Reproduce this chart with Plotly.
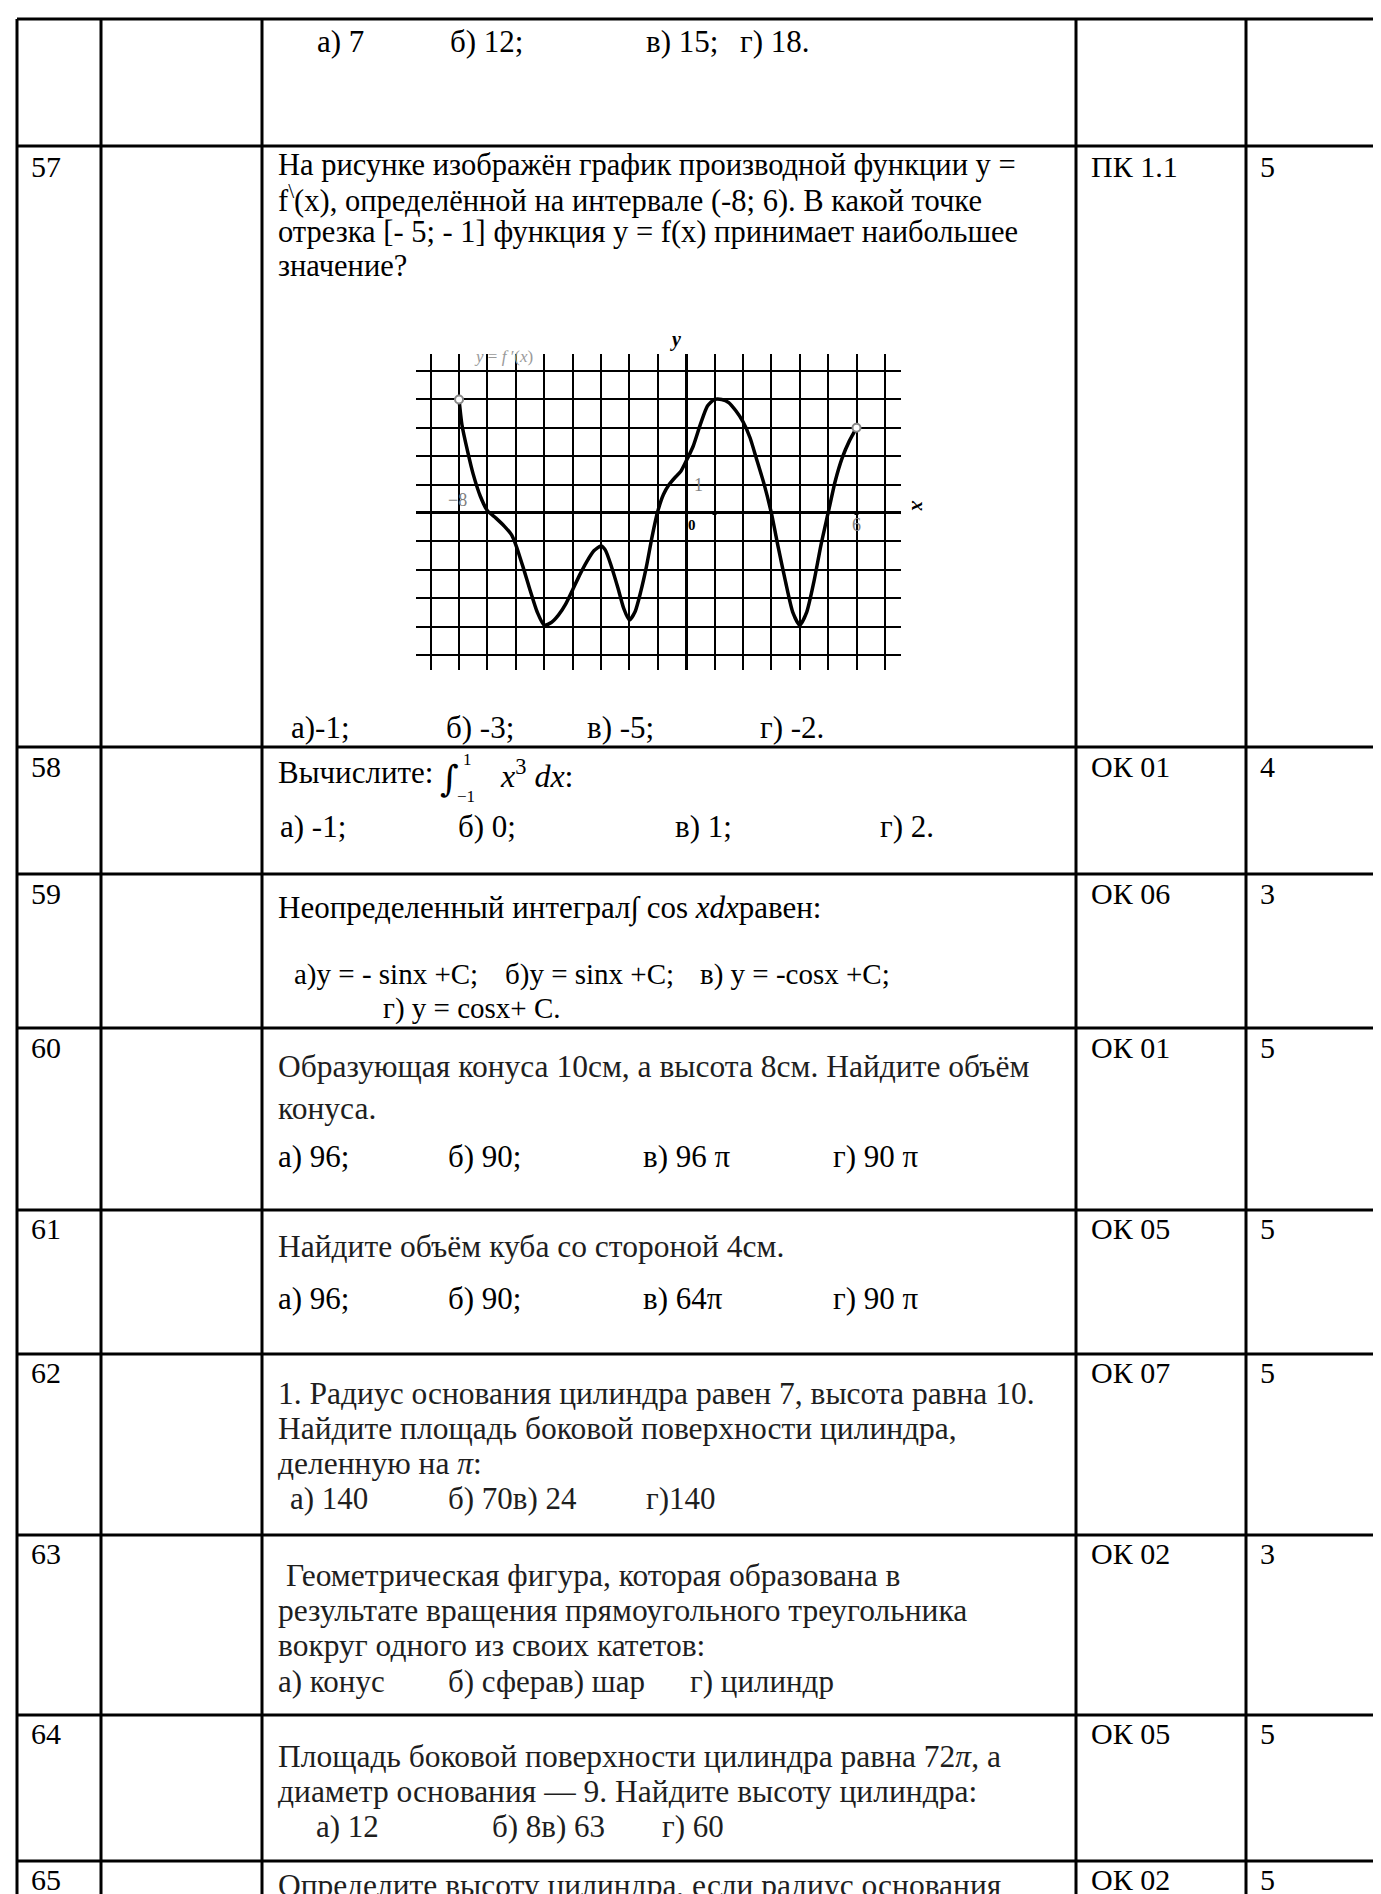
import plotly.graph_objects as go

W, H = 1381, 1894
FONT = "Liberation Serif"

# ---------------- table data ----------------
row_numbers = ["57", "58", "59", "60", "61", "62", "63", "64", "65"]
codes = ["ПК 1.1", "ОК 01", "ОК 06", "ОК 01", "ОК 05", "ОК 07", "ОК 02", "ОК 05", "ОК 02"]
points = ["5", "4", "3", "5", "5", "5", "3", "5", "5"]

prev_answers = ["а) 7", "б) 12;", "в) 15;", "г) 18."]
q57_lines = [
    "На рисунке изображён график производной функции у =",
    "f<sup>\\</sup>(x), определённой на интервале (-8; 6). В какой точке",
    "отрезка [- 5; - 1] функция у = f(x) принимает наибольшее",
    "значение?",
]
q57_answers = ["а)-1;", "б) -3;", "в) -5;", "г) -2."]
q58_answers = ["а) -1;", "б) 0;", "в) 1;", "г) 2."]
q59_line = "Неопределенный интеграл∫ cos <i>xdx</i>равен:"
q59_answers = ["а)y = - sinx +C;", "б)y = sinx +C;", "в) y = -cosx +C;", "г) y = cosx+ C."]
q60_lines = ["Образующая конуса 10см, а высота 8см. Найдите объём", "конуса."]
q60_answers = ["а) 96;", "б) 90;", "в) 96 π", "г) 90 π"]
q61_lines = ["Найдите объём куба со стороной 4см."]
q61_answers = ["а) 96;", "б) 90;", "в) 64π", "г) 90 π"]
q62_lines = [
    "1. Радиус основания цилиндра равен 7, высота равна 10.",
    "Найдите площадь боковой поверхности цилиндра,",
    "деленную на <i>π</i>:",
]
q62_answers = ["а) 140", "б) 70в) 24", "г)140"]
q63_lines = [
    " Геометрическая фигура, которая образована в",
    "результате вращения прямоугольного треугольника",
    "вокруг одного из своих катетов:",
]
q63_answers = ["а) конус", "б) сферав) шар", "г) цилиндр"]
q64_lines = [
    "Площадь боковой поверхности цилиндра равна 72<i>π</i>, а",
    "диаметр основания — 9. Найдите высоту цилиндра:",
]
q64_answers = ["а) 12", "б) 8в) 63", "г) 60"]
q65_lines = ["Определите высоту цилиндра, если радиус основания"]

# ---------------- chart data: y = f'(x) ----------------
fx = [-8, -7.9, -7.7, -7.5, -7.25, -7, -6.7, -6.4, -6.15, -6, -5.75, -5.5, -5.25, -5,
      -4.75, -4.5, -4.25, -4, -3.75, -3.5, -3.25, -3, -2.85, -2.65, -2.4, -2.2, -2,
      -1.8, -1.6, -1.4, -1.2, -1, -0.8, -0.6, -0.4, -0.2, 0, 0.25, 0.5, 0.75, 1,
      1.25, 1.5, 1.75, 2, 2.25, 2.5, 2.75, 3, 3.25, 3.5, 3.75, 4, 4.25, 4.5, 4.75,
      5, 5.25, 5.5, 5.75, 6]
fy = [4, 3.12, 2.18, 1.36, 0.59, 0.08, -0.18, -0.47, -0.77, -1.12, -1.89, -2.71, -3.48, -3.95,
      -3.86, -3.6, -3.22, -2.71, -2.18, -1.71, -1.33, -1.16, -1.3, -1.83, -2.65, -3.36, -3.77,
      -3.48, -2.77, -1.89, -0.83, 0.06, 0.65, 1.0, 1.24, 1.45, 1.83, 2.36, 3.12, 3.77, 4.0,
      4.0, 3.89, 3.6, 3.22, 2.65, 1.83, 1.0, 0.0, -1.24, -2.42, -3.48, -3.95, -3.48, -2.42, -1.12,
      0.0, 1.12, 1.95, 2.54, 3.0]
end_x = [fx[0], fx[-1]]
end_y = [fy[0], fy[-1]]
x_range = [-9.52, 7.55]
y_range = [-5.52, 5.6]
tick_marks_x = [1, 6]

# ---------------- layout geometry ----------------
col_edges = [9, 93, 254, 1068, 1238, 1379]
row_lines = [11, 138, 739, 866, 1020, 1202, 1346, 1527, 1707, 1853]
num_y = [158, 758, 885, 1039, 1220, 1364, 1545, 1725, 1871]

# chart placement on the page (pixels)
x_left, x_right = 407.9, 892.5
y_top, y_bot = 346.0, 661.7


def to_page(xv, yv):
    px = x_left + (xv - x_range[0]) / (x_range[1] - x_range[0]) * (x_right - x_left)
    py = y_bot - (yv - y_range[0]) / (y_range[1] - y_range[0]) * (y_bot - y_top)
    return px, py


fig = go.Figure()
fig.add_trace(go.Scatter(x=[0, W], y=[0, H], mode="markers", marker=dict(opacity=0),
                         hoverinfo="skip", showlegend=False, xaxis="x", yaxis="y"))

shapes = []
for xe in col_edges:
    shapes.append(dict(type="line", xref="x", yref="y", x0=xe, x1=xe, y0=row_lines[0], y1=H,
                       line=dict(color="black", width=3)))
for ye in row_lines:
    shapes.append(dict(type="line", xref="x", yref="y", x0=col_edges[0], x1=col_edges[-1],
                       y0=ye, y1=ye, line=dict(color="black", width=3)))

ann = []
FS = 31


def txt(s, x, y, size=FS, color="black", family=FONT, anchor="left", **kw):
    d = dict(text=s, x=x, y=y, xref="x", yref="y", xanchor=anchor, yanchor="middle",
             showarrow=False, font=dict(family=family, size=size, color=color))
    d.update(kw)
    ann.append(d)


for i, n in enumerate(row_numbers):
    txt(n, 21, num_y[i], size=30)
    txt(codes[i], 1081, num_y[i], size=30)
    txt(points[i], 1250, num_y[i], size=30)

# previous question answers (top row)
for s, x in zip(prev_answers, [307, 440, 636, 730]):
    txt(s, x, 33)

# 57
for s, y in zip(q57_lines, [157, 190.5, 224, 257.5]):
    txt(s, 268, y, size=30.5)
for s, x in zip(q57_answers, [281, 436, 577, 750]):
    txt(s, x, 719)

# 58
txt("Вычислите:", 268, 764)
txt("∫", 430, 770, size=36, family="DejaVu Serif")
txt("1", 453, 751, size=17)
txt("−1", 447, 788, size=17)
txt("<i>x</i><sup>3</sup> <i>dx</i>:", 490, 766, size=32)
for s, x in zip(q58_answers, [270, 448, 665, 870]):
    txt(s, x, 818)

# 59
txt(q59_line, 268, 900)
for s, x in zip(q59_answers[:3], [284, 495, 690]):
    txt(s, x, 966, size=29)
txt(q59_answers[3], 373, 1000, size=29)

GREY = "#1e1e1e"
ans_x4 = [268, 438, 633, 823]
# 60
for s, y in zip(q60_lines, [1058, 1100]):
    txt(s, 268, y, color=GREY, size=31.5)
for s, x in zip(q60_answers, ans_x4):
    txt(s, x, 1148)
# 61
txt(q61_lines[0], 268, 1238, color=GREY, size=31.5)
for s, x in zip(q61_answers, ans_x4):
    txt(s, x, 1290)
# 62
for s, y in zip(q62_lines, [1385, 1420, 1455]):
    txt(s, 268, y, color=GREY, size=31.5)
for s, x in zip(q62_answers, [280, 438, 636]):
    txt(s, x, 1490, color=GREY)
# 63
for s, y in zip(q63_lines, [1567, 1602, 1637]):
    txt(s, 268, y, color=GREY, size=31.5)
for s, x in zip(q63_answers, [268, 438, 680]):
    txt(s, x, 1673, color=GREY)
# 64
for s, y in zip(q64_lines, [1748, 1783]):
    txt(s, 268, y, color=GREY, size=31.5)
for s, x in zip(q64_answers, [306, 482, 652]):
    txt(s, x, 1818, color=GREY)
# 65
txt(q65_lines[0], 268, 1877, color=GREY, size=31.5)

# ---------------- chart ----------------
fig.add_trace(go.Scatter(x=fx, y=fy, mode="lines",
                         line=dict(color="black", width=3.5, shape="spline", smoothing=0.6),
                         xaxis="x2", yaxis="y2", showlegend=False, hoverinfo="skip"))
fig.add_trace(go.Scatter(x=end_x, y=end_y, mode="markers", cliponaxis=False,
                         marker=dict(symbol="circle", size=8, color="white", line=dict(color="#888", width=2)),
                         xaxis="x2", yaxis="y2", showlegend=False, hoverinfo="skip"))
fig.add_trace(go.Scatter(x=tick_marks_x, y=[0, 0], mode="markers",
                         marker=dict(symbol="square", size=4, color="black"),
                         xaxis="x2", yaxis="y2", showlegend=False, hoverinfo="skip"))
# axis extensions with arrowheads
shapes.append(dict(type="line", xref="x2", yref="y2", x0=0, x1=0, y0=y_range[1], y1=5.95,
                   line=dict(color="black", width=2.5)))
shapes.append(dict(type="line", xref="x2", yref="y2", x0=x_range[1], x1=7.9, y0=0, y1=0,
                   line=dict(color="black", width=2.5)))
fig.add_trace(go.Scatter(x=[0, 7.92], y=[5.97, 0], mode="markers", cliponaxis=False,
                         marker=dict(symbol=["triangle-up", "triangle-right"], size=9, color="black"),
                         xaxis="x2", yaxis="y2", showlegend=False, hoverinfo="skip"))


def cann(s, xv, yv, size=16, color="#808080", anchor="center", **kw):
    px, py = to_page(xv, yv)
    d = dict(text=s, x=px, y=py, xref="x", yref="y", showarrow=False, xanchor=anchor, yanchor="middle",
             font=dict(family=FONT, size=size, color=color))
    d.update(kw)
    ann.append(d)


cann("<i>y</i> = <i>f</i> ′(<i>x</i>)", -6.45, 5.5, size=17, color="#9a9a9a")
cann("−8", -8.05, 0.45, size=18)
cann("6", 6.0, -0.42, size=18)
cann("1", 0.42, 1.0, size=18)
cann("<b>0</b>", 0.22, -0.42, size=15, color="black")
cann("<b><i>y</i></b>", -0.38, 6.1, size=20, color="black")
cann("<b><i>x</i></b>", 8.2, 0.25, size=20, color="black", textangle=90)

fig.update_layout(
    width=W, height=H,
    margin=dict(l=0, r=0, t=0, b=0),
    paper_bgcolor="white", plot_bgcolor="rgba(0,0,0,0)",
    showlegend=False,
    xaxis=dict(range=[0, W], domain=[0, 1], visible=False, fixedrange=True),
    yaxis=dict(range=[H, 0], domain=[0, 1], visible=False, fixedrange=True),
    xaxis2=dict(range=x_range, domain=[x_left / W, x_right / W], anchor="y2",
                showgrid=True, gridcolor="black", gridwidth=2, dtick=1, tick0=0,
                zeroline=True, zerolinecolor="black", zerolinewidth=2.5,
                showticklabels=False, ticks="", showline=False, fixedrange=True),
    yaxis2=dict(range=y_range, domain=[1 - y_bot / H, 1 - y_top / H], anchor="x2",
                showgrid=True, gridcolor="black", gridwidth=2, dtick=1, tick0=0,
                zeroline=True, zerolinecolor="black", zerolinewidth=2.5,
                showticklabels=False, ticks="", showline=False, fixedrange=True),
    shapes=shapes,
    annotations=ann,
)

fig.write_html("out.html")
